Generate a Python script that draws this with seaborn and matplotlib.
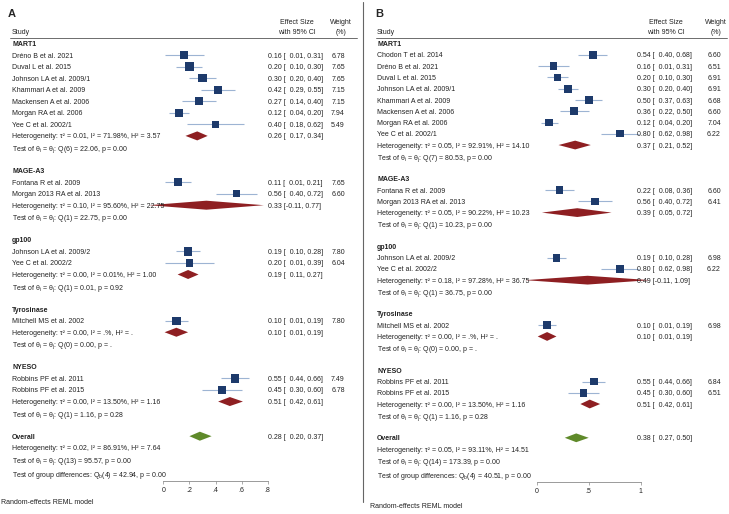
import matplotlib
matplotlib.use("Agg")
import matplotlib.pyplot as plt
import matplotlib.transforms as mtransforms
from matplotlib.lines import Line2D
import numpy as np
import pandas as pd
import seaborn as sns

# ---------------- data: panel A ----------------
a_groups = ["MART1", "MAGE-A3", "gp100", "Tyrosinase", "NYESO"]
a_study = ["Dréno B et al. 2021", "Duval L et al. 2015", "Johnson LA et al. 2009/1",
           "Khammari A et al. 2009", "Mackensen A et al. 2006", "Morgan RA et al. 2006",
           "Yee C et al. 2002/1",
           "Fontana R et al. 2009", "Morgan 2013 RA et al. 2013",
           "Johnson LA et al. 2009/2", "Yee C et al. 2002/2",
           "Mitchell MS et al. 2002",
           "Robbins PF et al. 2011", "Robbins PF et al. 2015"]
a_study_group = ["MART1"] * 7 + ["MAGE-A3"] * 2 + ["gp100"] * 2 + ["Tyrosinase"] + ["NYESO"] * 2
a_es = [0.16, 0.20, 0.30, 0.42, 0.27, 0.12, 0.40, 0.11, 0.56, 0.19, 0.20, 0.10, 0.55, 0.45]
a_lo = [0.01, 0.10, 0.20, 0.29, 0.14, 0.04, 0.18, 0.01, 0.40, 0.10, 0.01, 0.01, 0.44, 0.30]
a_hi = [0.31, 0.30, 0.40, 0.55, 0.40, 0.20, 0.62, 0.21, 0.72, 0.28, 0.39, 0.19, 0.66, 0.60]
a_wt = [6.78, 7.65, 7.65, 7.15, 7.15, 7.94, 5.49, 7.65, 6.60, 7.80, 6.04, 7.80, 7.49, 6.78]
a_grp_es = [0.26, 0.33, 0.19, 0.10, 0.51]
a_grp_lo = [0.17, -0.11, 0.11, 0.01, 0.42]
a_grp_hi = [0.34, 0.77, 0.27, 0.19, 0.61]
a_grp_het = ["τ² = 0.01, I² = 71.98%, H² = 3.57", "τ² = 0.10, I² = 95.60%, H² = 22.75",
             "τ² = 0.00, I² = 0.01%, H² = 1.00", "τ² = 0.00, I² = .%, H² = .",
             "τ² = 0.00, I² = 13.50%, H² = 1.16"]
a_grp_test = ["Q(6) = 22.06, p = 0.00", "Q(1) = 22.75, p = 0.00", "Q(1) = 0.01, p = 0.92",
              "Q(0) = 0.00, p = .", "Q(1) = 1.16, p = 0.28"]
a_overall = [0.28, 0.20, 0.37]
a_overall_het = "τ² = 0.02, I² = 86.91%, H² = 7.64"
a_overall_test = "Q(13) = 95.57, p = 0.00"
a_group_diff = "(4) = 42.94, p = 0.00"
a_ticks = [0, 0.2, 0.4, 0.6, 0.8]
a_ticklabels = ["0", ".2", ".4", ".6", ".8"]

# ---------------- data: panel B ----------------
b_groups = ["MART1", "MAGE-A3", "gp100", "Tyrosinase", "NYESO"]
b_study = ["Chodon T et al. 2014", "Dréno B et al. 2021", "Duval L et al. 2015",
           "Johnson LA et al. 2009/1", "Khammari A et al. 2009", "Mackensen A et al. 2006",
           "Morgan RA et al. 2006", "Yee C et al. 2002/1",
           "Fontana R et al. 2009", "Morgan 2013 RA et al. 2013",
           "Johnson LA et al. 2009/2", "Yee C et al. 2002/2",
           "Mitchell MS et al. 2002",
           "Robbins PF et al. 2011", "Robbins PF et al. 2015"]
b_study_group = ["MART1"] * 8 + ["MAGE-A3"] * 2 + ["gp100"] * 2 + ["Tyrosinase"] + ["NYESO"] * 2
b_es = [0.54, 0.16, 0.20, 0.30, 0.50, 0.36, 0.12, 0.80, 0.22, 0.56, 0.19, 0.80, 0.10, 0.55, 0.45]
b_lo = [0.40, 0.01, 0.10, 0.20, 0.37, 0.22, 0.04, 0.62, 0.08, 0.40, 0.10, 0.62, 0.01, 0.44, 0.30]
b_hi = [0.68, 0.31, 0.30, 0.40, 0.63, 0.50, 0.20, 0.98, 0.36, 0.72, 0.28, 0.98, 0.19, 0.66, 0.60]
b_wt = [6.60, 6.51, 6.91, 6.91, 6.68, 6.60, 7.04, 6.22, 6.60, 6.41, 6.98, 6.22, 6.98, 6.84, 6.51]
b_grp_es = [0.37, 0.39, 0.49, 0.10, 0.51]
b_grp_lo = [0.21, 0.05, -0.11, 0.01, 0.42]
b_grp_hi = [0.52, 0.72, 1.09, 0.19, 0.61]
b_grp_het = ["τ² = 0.05, I² = 92.91%, H² = 14.10", "τ² = 0.05, I² = 90.22%, H² = 10.23",
             "τ² = 0.18, I² = 97.28%, H² = 36.75", "τ² = 0.00, I² = .%, H² = .",
             "τ² = 0.00, I² = 13.50%, H² = 1.16"]
b_grp_test = ["Q(7) = 80.53, p = 0.00", "Q(1) = 10.23, p = 0.00", "Q(1) = 36.75, p = 0.00",
              "Q(0) = 0.00, p = .", "Q(1) = 1.16, p = 0.28"]
b_overall = [0.38, 0.27, 0.50]
b_overall_het = "τ² = 0.05, I² = 93.11%, H² = 14.51"
b_overall_test = "Q(14) = 173.39, p = 0.00"
b_group_diff = "(4) = 40.51, p = 0.00"
b_ticks = [0, 0.5, 1]
b_ticklabels = ["0", ".5", "1"]

# ---------------- style ----------------
sns.set_style("white")
plt.rcParams["font.family"] = ["Liberation Sans", "DejaVu Sans"]
plt.rcParams["mathtext.fontset"] = "custom"
plt.rcParams["mathtext.rm"] = "Liberation Sans"
plt.rcParams["mathtext.it"] = "Liberation Sans:italic"

NAVY = "#1d3a6b"
CI_BLUE = "#9db4d3"
RED = "#8e1f22"
GREEN = "#5f8a2a"
GRAY = "#8a8a8a"
FS = 5.0

W, H = 729, 514
fig = plt.figure(figsize=(W / 100, H / 100), dpi=100)


def fx(px):
    return px / W


def fy(py):
    return 1 - py / H


def fmt_ci(es, lo, hi):
    return f"{es:.2f} [{lo:5.2f}, {hi:.2f}]".replace("[ ", "[  ")


def draw_panel(letter, groups, study, study_group, es, lo, hi, wt,
               g_es, g_lo, g_hi, g_het, g_test, overall, o_het, o_test, g_diff,
               ticks, ticklabels, lay):
    # assign row positions: header, studies, heterogeneity, test, blank
    df = pd.DataFrame({"study": study, "group": study_group, "es": es,
                       "lo": lo, "hi": hi, "wt": wt})
    df["row"] = 0.0
    r = 0
    grp_rows = []
    for g in groups:
        idx = df.index[df["group"] == g]
        grp_rows.append(r)
        df.loc[idx, "row"] = np.arange(r + 1, r + 1 + len(idx))
        r += len(idx) + 4
    ov_row = r

    x0, ppu, xmax = lay["x0"], lay["ppu"], lay["xmax"]
    row0, dr = lay["row0"], lay["dr"]
    top_px, bot_px = 37, lay["axis_y"]
    ax = fig.add_axes([fx(x0), fy(bot_px), xmax * ppu / W, (bot_px - top_px) / H])
    ax.set_facecolor("none")

    ax.hlines(df["row"], df["lo"], df["hi"], color=CI_BLUE, lw=0.8, clip_on=False, zorder=2)
    sns.scatterplot(data=df, x="es", y="row", marker="s", s=df["wt"] * 4.6,
                    color=NAVY, linewidth=0, ax=ax, clip_on=False, zorder=3, legend=False)

    hh = 0.39
    for i, g in enumerate(groups):
        rr = grp_rows[i] + (df["group"] == g).sum() + 1
        ax.fill([g_lo[i], g_es[i], g_hi[i], g_es[i]], [rr, rr - hh, rr, rr + hh],
                color=RED, lw=0, clip_on=False, zorder=3)
    ax.fill([overall[1], overall[0], overall[2], overall[0]],
            [ov_row, ov_row - hh, ov_row, ov_row + hh],
            color=GREEN, lw=0, clip_on=False, zorder=3)

    ax.set_xlim(0, xmax)
    ax.set_ylim((bot_px - row0) / dr, (top_px - row0) / dr)
    ax.set_xlabel("")
    ax.set_ylabel("")
    ax.set_yticks([])
    ax.set_xticks(ticks)
    ax.set_xticklabels(ticklabels)
    for s in ["top", "left", "right"]:
        ax.spines[s].set_visible(False)
    ax.spines["bottom"].set_color(GRAY)
    ax.spines["bottom"].set_linewidth(0.6)
    ax.tick_params(axis="x", length=2.5, width=0.5, color=GRAY, labelsize=FS,
                   pad=2, bottom=True, labelcolor="#222222")

    tr = mtransforms.blended_transform_factory(fig.transFigure, ax.transData)
    nx, ex, wx = fx(lay["name_x"]), fx(lay["es_x"]), fx(lay["wt_x"])
    kw = dict(transform=tr, fontsize=FS, va="center_baseline", color="#222222", zorder=4)

    for i, g in enumerate(groups):
        gr = grp_rows[i]
        n = (df["group"] == g).sum()
        ax.text(nx, gr, g, fontweight="bold", **kw)
        ax.text(nx, gr + n + 1, "Heterogeneity: " + g_het[i], **kw)
        ax.text(ex, gr + n + 1, fmt_ci(g_es[i], g_lo[i], g_hi[i]), **kw)
        ax.text(nx, gr + n + 2, "Test of θ$_\\mathrm{i}$ = θ$_\\mathrm{j}$: " + g_test[i], **kw)
    for _, row in df.iterrows():
        ax.text(nx, row["row"], row["study"], **kw)
        ax.text(ex, row["row"], fmt_ci(row["es"], row["lo"], row["hi"]), **kw)
        ax.text(wx, row["row"], f"{row['wt']:.2f}", ha="center", **kw)

    ax.text(nx, ov_row, "Overall", fontweight="bold", **kw)
    ax.text(ex, ov_row, fmt_ci(*overall), **kw)
    ax.text(nx, ov_row + 1, "Heterogeneity: " + o_het, **kw)
    ax.text(nx, ov_row + 2, "Test of θ$_\\mathrm{i}$ = θ$_\\mathrm{j}$: " + o_test, **kw)
    ax.text(nx, ov_row + 3.25, "Test of group differences: Q$_\\mathrm{b}$" + g_diff, **kw)

    # header
    fkw = dict(fontsize=FS, va="center_baseline", color="#222222")
    fig.text(fx(lay["letter_x"]), fy(14), letter, fontsize=8, fontweight="bold", va="center")
    fig.text(nx, fy(32), "Study", **fkw)
    fig.text(fx(lay["hes_x"]), fy(22), "Effect Size", ha="center", **fkw)
    fig.text(fx(lay["hes_x"]), fy(32), "with 95% CI", ha="center", **fkw)
    fig.text(fx(lay["hwt_x"]), fy(22), "Weight", ha="center", **fkw)
    fig.text(fx(lay["hwt_x"]), fy(32), "(%)", ha="center", **fkw)
    fig.add_artist(Line2D([fx(lay["line_x"][0]), fx(lay["line_x"][1])], [fy(37.5), fy(37.5)],
                          color="#555555", lw=0.6))
    fig.text(fx(lay["note_x"]), fy(lay["note_y"]), "Random-effects REML model", **fkw)


lay_a = dict(x0=163.3, ppu=130.5, xmax=0.8, row0=43.5, dr=11.55, axis_y=481,
             name_x=12, es_x=268, wt_x=338, hes_x=297, hwt_x=341, line_x=(10, 357),
             letter_x=8, note_x=1, note_y=501)
lay_b = dict(x0=536.7, ppu=104.0, xmax=1.0, row0=43.7, dr=11.26, axis_y=482,
             name_x=377, es_x=637, wt_x=714, hes_x=666, hwt_x=716, line_x=(376, 727),
             letter_x=375, note_x=370, note_y=505)

draw_panel("A", a_groups, a_study, a_study_group, a_es, a_lo, a_hi, a_wt,
           a_grp_es, a_grp_lo, a_grp_hi, a_grp_het, a_grp_test,
           a_overall, a_overall_het, a_overall_test, a_group_diff,
           a_ticks, a_ticklabels, lay_a)
draw_panel("B", b_groups, b_study, b_study_group, b_es, b_lo, b_hi, b_wt,
           b_grp_es, b_grp_lo, b_grp_hi, b_grp_het, b_grp_test,
           b_overall, b_overall_het, b_overall_test, b_group_diff,
           b_ticks, b_ticklabels, lay_b)

# panel separator
fig.add_artist(Line2D([fx(362.5), fx(362.5)], [fy(2), fy(502)], color="#666666", lw=0.8))

fig.savefig("out.png", dpi=100, facecolor="white")
